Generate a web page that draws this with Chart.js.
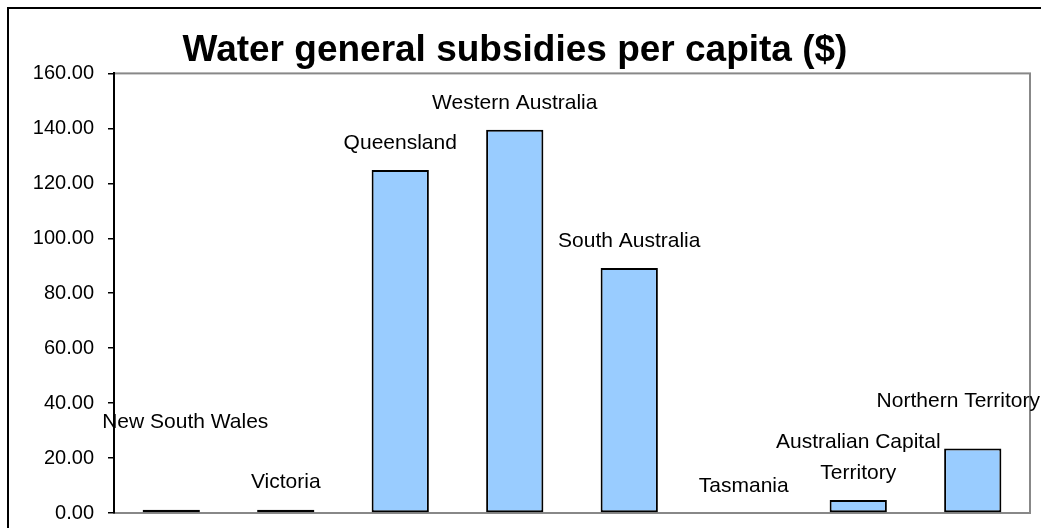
<!DOCTYPE html>
<html>
<head>
<meta charset="utf-8">
<script src="https://cdn.jsdelivr.net/npm/chart.js@4"></script>
<style>
  html, body { margin: 0; padding: 0; background: #fff; }
  canvas { display: block; }
</style>
</head>
<body>
<canvas id="chart" width="1041" height="528"></canvas>
<script>
// Data
const categories = ['New South Wales', 'Victoria', 'Queensland', 'Western Australia', 'South Australia', 'Tasmania', ['Australian Capital', 'Territory'], 'Northern Territory'];
const subsidies = [1.2, 1.2, 124.8, 139.5, 89.2, 0, 4.7, 23.5];
const yTicks = [0, 20, 40, 60, 80, 100, 120, 140, 160];

// manual nudges of the category labels (dx, dy in px), like moved Excel data labels
const labelNudge = [[14, -60], [0, 0], [0, 0], [0, 0], [0, 0], [0, 0], [0, 0], [0, -20]];

const FONT = '"Liberation Sans", Arial, sans-serif';

// Frame of the page and the grey box round the plot area
const framePlugin = {
    id: 'frame',
    beforeDraw(chart) {
        const ctx = chart.ctx;
        const a = chart.chartArea;
        ctx.save();
        ctx.strokeStyle = '#000';
        ctx.lineWidth = 2;
        ctx.beginPath();
        ctx.moveTo(8, chart.height);
        ctx.lineTo(8, 8);
        ctx.lineTo(chart.width, 8);
        ctx.stroke();
        ctx.strokeStyle = '#888';
        ctx.lineWidth = 2;
        ctx.strokeRect(a.left, a.top, a.right - a.left, a.bottom - a.top);
        ctx.restore();
    }
};

// Category names drawn above each bar
const barLabelPlugin = {
    id: 'barLabels',
    afterDatasetsDraw(chart) {
        const ctx = chart.ctx;
        const bars = chart.getDatasetMeta(0).data;
        ctx.save();
        ctx.font = '21px ' + FONT;
        ctx.fillStyle = '#000';
        ctx.textAlign = 'center';
        ctx.textBaseline = 'middle';
        bars.forEach((bar, i) => {
            const lines = [].concat(categories[i]);
            let x = bar.x + labelNudge[i][0];
            const w = Math.max(...lines.map(l => ctx.measureText(l).width));
            if (x + w / 2 > chart.width - 1) x = chart.width - 1 - w / 2;
            let y = bar.y - 27 + labelNudge[i][1];
            for (let k = lines.length - 1; k >= 0; k--) {
                ctx.fillText(lines[k], x, y);
                y -= 31;
            }
        });
        ctx.restore();
    }
};

const ctx = document.getElementById('chart').getContext('2d');
new Chart(ctx, {
    type: 'bar',
    data: {
        labels: categories,
        datasets: [{
            data: subsidies,
            backgroundColor: '#99CCFF',
            borderColor: '#000',
            borderWidth: 2,
            borderSkipped: false,
            categoryPercentage: 0.5,
            barPercentage: 1
        }]
    },
    options: {
        responsive: false,
        animation: false,
        layout: { padding: { left: 0, right: 11, top: 0, bottom: 0 } },
        plugins: {
            legend: { display: false },
            tooltip: { enabled: false },
            title: {
                display: true,
                text: 'Water general subsidies per capita ($)',
                color: '#000',
                font: { family: FONT, size: 37, weight: 'bold', lineHeight: 1.2 },
                padding: { top: 29, bottom: 0 }
            }
        },
        scales: {
            x: {
                grid: { display: false },
                border: { display: true, color: '#888', width: 2 },
                ticks: { display: false },
                afterFit(scale) { scale.height = 15; }
            },
            y: {
                min: 0,
                max: 160,
                afterBuildTicks(scale) { scale.ticks = yTicks.map(v => ({ value: v })); },
                grid: { drawOnChartArea: false, drawTicks: true, tickLength: 6, color: '#000', lineWidth: 1.5 },
                border: { display: true, color: '#000', width: 2 },
                ticks: {
                    color: '#000',
                    padding: 14,
                    font: { family: FONT, size: 20 },
                    callback: v => Number(v).toFixed(2)
                },
                afterFit(scale) {
                    scale.width = 114;
                    scale.paddingTop = 0;
                    scale.paddingBottom = 0;
                }
            }
        }
    },
    plugins: [framePlugin, barLabelPlugin]
});
</script>
</body>
</html>
